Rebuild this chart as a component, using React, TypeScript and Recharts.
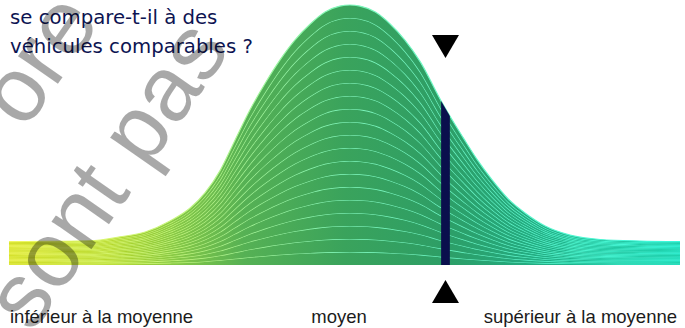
import React from 'react';
import { AreaChart, Area, XAxis, YAxis, ReferenceLine } from 'recharts';

// position along the band (0 = far left, 100 = far right)
const scores = [
  0, 6.1, 12.1, 16.5, 20.3, 24.0, 27.0, 29.2, 31.5, 33.7, 35.9, 38.2, 40.4, 42.6, 44.9, 47.1, 49.3, 50.8,
  52.3, 54.6, 56.8, 59.0, 61.3, 64.4, 65.7, 67.7, 69.8, 72.0, 74.4, 76.9, 79.9, 83.6, 88.1, 94.0, 100,
];
// height of the distribution at each position (peak = 100)
const totals = [
  9.0, 9.1, 9.3, 10.8, 12.7, 16.9, 21.9, 27.7, 36.5, 48.1, 59.6, 70.0, 78.9, 86.5, 92.7, 97.3, 99.6, 100,
  99.6, 97.3, 92.7, 86.5, 78.1, 63.1, 57.3, 48.9, 40.4, 32.7, 25.4, 20.0, 15.0, 11.5, 9.8, 9.2, 9.0,
];
const LAYERS = 20;
const vehicleBand = [64.4, 65.7];
const vehicleScore = 65.05;
const tickValues = [0, 49.2, 100];
const tickLabels = ['inférieur à la moyenne', 'moyen', 'supérieur à la moyenne'];
const titleLines = ['se compare-t-il à des', 'véhicules comparables ?'];

const layerKeys = Array.from({ length: LAYERS }, (_, i) => `l${i}`);

const rows = scores.map((score, i) => {
  const row: Record<string, number | null> = {
    score,
    marker: score >= vehicleBand[0] && score <= vehicleBand[1] ? totals[i] : null,
  };
  layerKeys.forEach((k) => {
    row[k] = totals[i] / LAYERS;
  });
  return row;
});

const BandTick = (props: any) => {
  const { x, y, index } = props;
  const last = tickValues.length - 1;
  const anchor = index === 0 ? 'start' : index === last ? 'end' : 'middle';
  const dx = index === 0 ? 1 : index === last ? -3 : 0;
  return (
    <text
      x={x + dx}
      y={y}
      dy={58}
      textAnchor={anchor}
      fill="#1b1b1b"
      fontSize={18.5}
      fontFamily="'Liberation Sans', Arial, sans-serif"
    >
      {tickLabels[index]}
    </text>
  );
};

// the two black arrows above and below the vehicle's marker
const Arrows = (props: any) => {
  const { x, y, height } = props.viewBox;
  const bottom = y + height;
  return (
    <g fill="#000">
      <polygon points={`${x - 13.5},${y + 30} ${x + 13.5},${y + 30} ${x},${y + 53}`} />
      <polygon points={`${x - 13.5},${bottom + 38} ${x + 13.5},${bottom + 38} ${x},${bottom + 15}`} />
    </g>
  );
};

export default function App() {
  return (
    <div style={{ position: 'relative', width: 685, height: 328, background: '#fff', overflow: 'hidden' }}>
      <style>{'body{margin:0}'}</style>
      <AreaChart width={685} height={328} data={rows} margin={{ top: 5, right: 5, bottom: 0, left: 9 }}>
        <defs>
          <linearGradient id="bell" x1="0" y1="0" x2="1" y2="0">
            <stop offset="0" stopColor="#cbd91a" />
            <stop offset="0.15" stopColor="#b6d72a" />
            <stop offset="0.25" stopColor="#86c846" />
            <stop offset="0.35" stopColor="#56b154" />
            <stop offset="0.5" stopColor="#3aa35c" />
            <stop offset="0.65" stopColor="#2d9e66" />
            <stop offset="0.75" stopColor="#25a87b" />
            <stop offset="0.87" stopColor="#1bbb95" />
            <stop offset="1" stopColor="#15c6a0" />
          </linearGradient>
          <linearGradient id="bellLine" x1="0" y1="0" x2="1" y2="0">
            <stop offset="0" stopColor="#f2f760" />
            <stop offset="0.25" stopColor="#c4f57c" />
            <stop offset="0.5" stopColor="#7ff7bc" />
            <stop offset="0.75" stopColor="#5ff7cc" />
            <stop offset="1" stopColor="#38f8dc" />
          </linearGradient>
        </defs>
        <XAxis
          dataKey="score"
          type="number"
          domain={[0, 100]}
          ticks={tickValues}
          interval={0}
          tick={<BandTick />}
          axisLine={false}
          tickLine={false}
          tickSize={0}
          tickMargin={0}
          height={63}
        />
        <YAxis hide domain={[0, 100]} />
        {layerKeys.map((k) => (
          <Area
            key={k}
            dataKey={k}
            stackId="bell"
            type="monotone"
            fill="url(#bell)"
            fillOpacity={1}
            stroke="url(#bellLine)"
            strokeWidth={1.2}
            isAnimationActive={false}
          />
        ))}
        <Area
          dataKey="marker"
          type="linear"
          fill="#0a0f4d"
          fillOpacity={1}
          stroke="none"
          connectNulls={false}
          isAnimationActive={false}
        />
        <ReferenceLine x={vehicleScore} stroke="none" label={<Arrows />} />
      </AreaChart>

      <div
        style={{
          position: 'absolute',
          left: 10,
          top: 3,
          color: '#0d1452',
          fontFamily: "'DejaVu Sans', sans-serif",
          fontSize: 19.7,
          lineHeight: '29px',
        }}
      >
        {titleLines.map((t) => (
          <div key={t}>{t}</div>
        ))}
      </div>

      <svg width={685} height={328} style={{ position: 'absolute', left: 0, top: 0, pointerEvents: 'none' }}>
        <g fill="#000" fillOpacity={0.34} fontFamily="'Liberation Sans', Arial, sans-serif" fontSize={92}>
          <text transform="translate(25,131) rotate(-55)">ore</text>
          <text transform="translate(32,334) rotate(-55)">sont pas</text>
        </g>
      </svg>
    </div>
  );
}
